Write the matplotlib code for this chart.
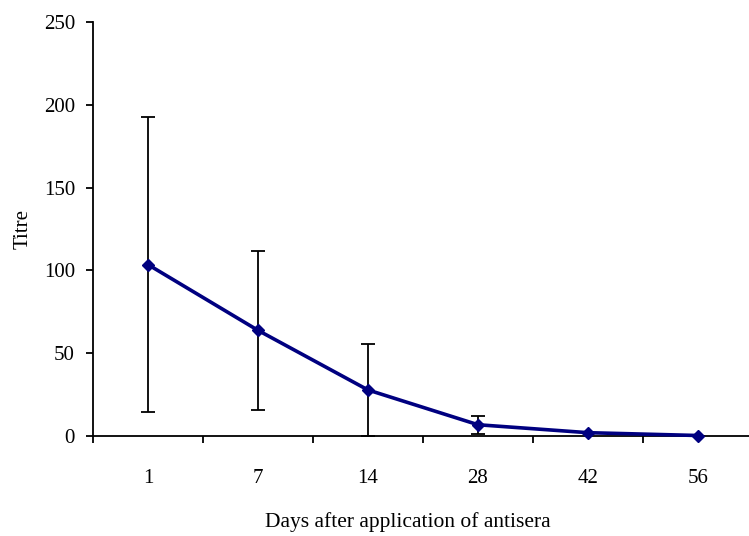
import matplotlib
matplotlib.use("Agg")
import matplotlib.pyplot as plt
import numpy as np

days = ["1", "7", "14", "28", "42", "56"]
titre = [103.5, 63.8, 27.8, 6.8, 2.0, 0.3]
err = [89.0, 47.8, 28.0, 5.5, 0.0, 0.0]
yticks = [0, 50, 100, 150, 200, 250]

plt.rcParams['font.family'] = ['Liberation Serif', 'DejaVu Serif']
FS = 15

fig = plt.figure(figsize=(7.49, 5.36), dpi=100)
ax = fig.add_axes([93/749, 100/536, 660/749, 414/536])

x = np.arange(len(days))
ax.errorbar(x, titre, yerr=err, fmt='none', ecolor='black', elinewidth=1.3,
            capsize=5, capthick=1.3, zorder=2)
ax.plot(x, titre, color='#000080', linewidth=2.6, marker='D', markersize=6.5,
        zorder=3, clip_on=False)

ax.set_xlim(-0.5, len(days) - 0.5)
ax.set_ylim(0, 250)
ax.set_yticks(yticks)
ax.set_yticklabels([str(v) for v in yticks], fontsize=FS)

ax.set_xticks(np.arange(-0.5, len(days) - 0.5, 1.0))
ax.set_xticklabels([])
ax.set_xticks(x, minor=True)
ax.set_xticklabels(days, minor=True, fontsize=FS)
ax.tick_params(axis='x', which='major', direction='out', length=5, width=1.3)
ax.tick_params(axis='x', which='minor', length=0, pad=24)
ax.tick_params(axis='y', direction='out', length=5, width=1.3, pad=8)

for s in ['top', 'right']:
    ax.spines[s].set_visible(False)
for s in ['left', 'bottom']:
    ax.spines[s].set_linewidth(1.3)

ax.set_ylabel("Titre", fontsize=FS, labelpad=8)
fig.text(408/749, 1 - 522/536, "Days after application of antisera",
         fontsize=15.5, ha='center', va='center')

fig.savefig("out.png", dpi=100)
